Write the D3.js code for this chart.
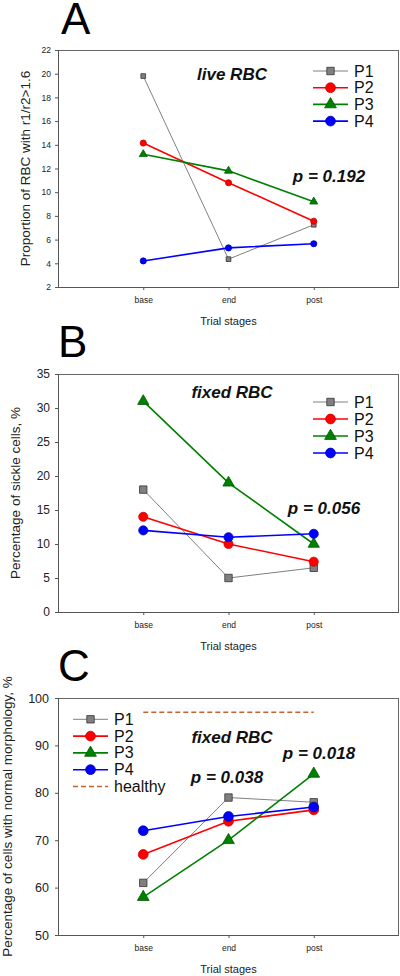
<!DOCTYPE html>
<html><head><meta charset="utf-8">
<script src="https://cdn.jsdelivr.net/npm/d3@7"></script>
<style>
html,body{margin:0;padding:0;background:#fff;}
svg{display:block;font-family:"Liberation Sans",Arial,sans-serif;}
</style></head>
<body>
<svg id="chart" width="400" height="976"></svg>
<script>
// ---- data ----
const stages = ["base", "end", "post"];
const seriesNames = ["P1", "P2", "P3", "P4"];

// Panel A: live RBC, proportion with r1/r2>1.6
const aP1 = [19.8, 4.35, 7.25];
const aP2 = [14.15, 10.8, 7.55];
const aP3 = [13.2, 11.8, 9.2];
const aP4 = [4.2, 5.3, 5.65];
const aTicks = [2, 4, 6, 8, 10, 12, 14, 16, 18, 20, 22];

// Panel B: fixed RBC, percentage of sickle cells
const bP1 = [18, 5, 6.5];
const bP2 = [14, 10, 7.4];
const bP3 = [31, 19, 10];
const bP4 = [12, 11, 11.5];
const bTicks = [0, 5, 10, 15, 20, 25, 30, 35];

// Panel C: fixed RBC, percentage with normal morphology
const cP1 = [61, 79, 78];
const cP2 = [67, 74, 76.4];
const cP3 = [58, 70, 84];
const cP4 = [72, 75, 77];
const cHealthy = [97, 97, 97];
const cTicks = [50, 60, 70, 80, 90, 100];

// ---- styling ----
const colors = {P1: "#808080", P2: "#ff0000", P3: "#008000", P4: "#0000ff"};
const strokes = {P1: "#333333", P2: "#cc0000", P3: "#005a00", P4: "#0000b0"};
const shapes = {P1: d3.symbolSquare, P2: d3.symbolCircle, P3: d3.symbolTriangle, P4: d3.symbolCircle};
const lineW = {P1: 1, P2: 1.6, P3: 1.6, P4: 1.6};
const healthyColor = "#c0652e";

const svg = d3.select("#chart");
const X0 = 58, X1 = 399;

function panel(cfg) {
  const g = svg.append("g");
  const x = d3.scalePoint().domain(stages).range([X0, X1]).padding(1);
  const y = d3.scaleLinear().domain([cfg.ticks[0], cfg.ticks[cfg.ticks.length - 1]]).range([cfg.bottom, cfg.top]);

  // frame top & right
  g.append("line").attr("x1", X0).attr("x2", X1).attr("y1", cfg.top + 0.5).attr("y2", cfg.top + 0.5)
    .attr("stroke", "#666").attr("stroke-width", 1);
  g.append("line").attr("x1", X1 - 0.5).attr("x2", X1 - 0.5).attr("y1", cfg.top).attr("y2", cfg.bottom)
    .attr("stroke", "#666").attr("stroke-width", 1);

  const ya = g.append("g").attr("transform", `translate(${X0},0)`)
    .call(d3.axisLeft(y).tickValues(cfg.ticks).tickSize(3).tickSizeOuter(0).tickPadding(cfg.tickPad).tickFormat(d3.format("d")));
  ya.select(".domain").attr("stroke", "#555");
  ya.selectAll(".tick line").attr("stroke", "#555");
  ya.selectAll("text").attr("font-size", cfg.tickFont).attr("fill", "#222")
    .attr("font-family", "'Liberation Sans',Arial,sans-serif");

  const xa = g.append("g").attr("transform", `translate(0,${cfg.bottom})`)
    .call(d3.axisBottom(x).tickSize(3).tickSizeOuter(0).tickPadding(7));
  xa.select(".domain").attr("stroke", "#555").attr("d", `M${X0},0.5H${X1}`);
  xa.selectAll(".tick line").attr("stroke", "#555");
  xa.selectAll("text").attr("font-size", 8.5).attr("fill", "#222")
    .attr("font-family", "'Liberation Sans',Arial,sans-serif");

  // axis titles
  g.append("text").attr("x", (X0 + X1) / 2).attr("y", cfg.bottom + 38).attr("text-anchor", "middle")
    .attr("font-size", 11).attr("fill", "#222").text("Trial stages");
  g.append("text").attr("transform", `translate(${cfg.ylabX},${(cfg.top + cfg.bottom) / 2}) rotate(-90)`)
    .attr("text-anchor", "middle").attr("font-size", cfg.ylabFont).attr("fill", "#222").text(cfg.ylabel);

  // panel letter
  g.append("text").attr("x", cfg.letterX).attr("y", cfg.letterY).attr("font-size", 44).attr("fill", "#000").text(cfg.letter);

  // healthy line
  if (cfg.healthy) {
    g.append("path").datum(cfg.healthy)
      .attr("d", d3.line().x((d, i) => x(stages[i])).y(d => y(d)))
      .attr("fill", "none").attr("stroke", healthyColor).attr("stroke-width", 1.5).attr("stroke-dasharray", "5,3");
  }

  // series
  const line = d3.line().x((d, i) => x(stages[i])).y(d => y(d));
  cfg.series.forEach((vals, k) => {
    const name = seriesNames[k];
    g.append("path").datum(vals).attr("d", line).attr("fill", "none")
      .attr("stroke", colors[name]).attr("stroke-width", lineW[name]);
  });
  cfg.series.forEach((vals, k) => {
    const name = seriesNames[k];
    g.selectAll(null).data(vals).enter().append("path")
      .attr("transform", (d, i) => `translate(${x(stages[i])},${y(d)})`)
      .attr("d", d3.symbol().type(shapes[name]).size(cfg.markerSize[name]))
      .attr("fill", colors[name]).attr("stroke", strokes[name]).attr("stroke-width", 0.8);
  });

  // legend
  const leg = g.append("g");
  const items = seriesNames.slice();
  if (cfg.healthy) items.push("healthy");
  items.forEach((name, i) => {
    const yy = cfg.legY + i * cfg.legStep;
    if (name === "healthy") {
      leg.append("line").attr("x1", cfg.legX).attr("x2", cfg.legX + 35).attr("y1", yy).attr("y2", yy)
        .attr("stroke", healthyColor).attr("stroke-width", 1.5).attr("stroke-dasharray", "5,3");
    } else {
      leg.append("line").attr("x1", cfg.legX).attr("x2", cfg.legX + 35).attr("y1", yy).attr("y2", yy)
        .attr("stroke", colors[name]).attr("stroke-width", lineW[name]);
      leg.append("path").attr("transform", `translate(${cfg.legX + 17.5},${yy})`)
        .attr("d", d3.symbol().type(shapes[name]).size(cfg.legMarker[name]))
        .attr("fill", colors[name]).attr("stroke", strokes[name]).attr("stroke-width", 0.8);
    }
    leg.append("text").attr("x", cfg.legX + 41).attr("y", yy + 5.5).attr("font-size", 16).attr("fill", "#111").text(name);
  });

  // annotations
  cfg.notes.forEach(n => {
    g.append("text").attr("x", n.x).attr("y", n.y).attr("text-anchor", "middle")
      .attr("font-size", 17).attr("font-weight", "bold").attr("font-style", "italic").attr("fill", "#111").text(n.t);
  });
}

const bigMarkers = {P1: 55, P2: 75, P3: 60, P4: 75};

panel({
  letter: "A", letterX: 61, letterY: 34, top: 50, bottom: 287,
  ticks: aTicks, tickFont: 8.5, tickPad: 4,
  ylabel: "Proportion of RBC with r1/r2>1.6", ylabX: 30, ylabFont: 13.5,
  series: [aP1, aP2, aP3, aP4],
  markerSize: {P1: 22, P2: 30, P3: 28, P4: 30},
  legX: 313, legY: 71, legStep: 16.7, legMarker: bigMarkers,
  notes: [{t: "live RBC", x: 232, y: 80}, {t: "p = 0.192", x: 329, y: 182}]
});

panel({
  letter: "B", letterX: 58, letterY: 357, top: 374, bottom: 612,
  ticks: bTicks, tickFont: 12, tickPad: 5,
  ylabel: "Percentage of sickle cells, %", ylabX: 20, ylabFont: 13.5,
  series: [bP1, bP2, bP3, bP4],
  markerSize: {P1: 55, P2: 65, P3: 55, P4: 65},
  legX: 313, legY: 402, legStep: 17, legMarker: bigMarkers,
  notes: [{t: "fixed RBC", x: 232, y: 398}, {t: "p = 0.056", x: 324, y: 514}]
});

panel({
  letter: "C", letterX: 58, letterY: 681, top: 698, bottom: 935,
  ticks: cTicks, tickFont: 12.5, tickPad: 6,
  ylabel: "Percentage of cells with normal morphology, %", ylabX: 12, ylabFont: 13.5,
  series: [cP1, cP2, cP3, cP4], healthy: cHealthy,
  markerSize: {P1: 55, P2: 75, P3: 60, P4: 75},
  legX: 73, legY: 719.3, legStep: 16.8, legMarker: bigMarkers,
  notes: [{t: "fixed RBC", x: 232, y: 743}, {t: "p = 0.018", x: 319, y: 759}, {t: "p = 0.038", x: 227, y: 783}]
});
</script>
</body></html>
